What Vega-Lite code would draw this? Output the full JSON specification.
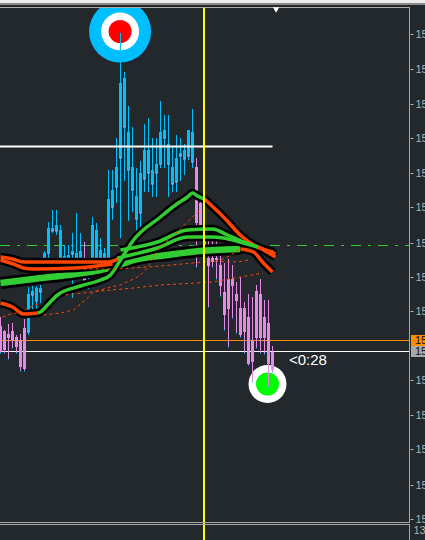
{"$schema":"https://vega.github.io/schema/vega-lite/v6.json","width":425,"height":540,"padding":0,"autosize":{"type":"none"},"background":"#22282c","config":{"view":{"stroke":null}},
"datasets":{"candles":[
{"n":0,"p":15223,"t":15214,"b":15188,"p2":15187,"d":"d"},{"n":1,"p":15210,"t":15209,"b":15190,"p2":15187,"d":"d"},{"n":2,"p":15216,"t":15206,"b":15202,"p2":15181,"d":"d"},{"n":3,"p":15217,"t":15209,"b":15200,"p2":15192,"d":"d"},{"n":4,"p":15205,"t":15203,"b":15193,"p2":15187,"d":"d"},{"n":5,"p":15206,"t":15200,"b":15173,"p2":15169,"d":"d"},{"n":6,"p":15221,"t":15212,"b":15171,"p2":15169,"d":"d"},
{"n":7,"p":15253,"t":15246,"b":15208,"p2":15205,"d":"u"},{"n":8,"p":15254,"t":15249,"b":15245,"p2":15228,"d":"u"},{"n":9,"p":15254,"t":15252,"b":15239,"p2":15230,"d":"u"},{"n":10,"p":15255,"t":15252,"b":15248,"p2":15237,"d":"u"},{"n":11,"p":15289,"t":15287,"b":15282,"p2":15280,"d":"u"},{"n":12,"p":15318,"t":15312,"b":15287,"p2":15282,"d":"u"},{"n":13,"p":15330,"t":15312,"b":15309,"p2":15307,"d":"u"},{"n":14,"p":15330,"t":15315,"b":15309,"p2":15305,"d":"u"},{"n":15,"p":15315,"t":15310,"b":15282,"p2":15280,"d":"u"},{"n":16,"p":15295,"t":15284,"b":15280,"p2":15278,"d":"u"},{"n":17,"p":15295,"t":15285,"b":15280,"p2":15278,"d":"u"},{"n":18,"p":15307,"t":15289,"b":15286,"p2":15242,"d":"u"},{"n":19,"p":15327,"t":15287,"b":15282,"p2":15278,"d":"u"},{"n":20,"p":15307,"t":15289,"b":15280,"p2":15265,"d":"u"},{"n":21,"p":15298,"t":15263,"b":15259,"p2":15258,"d":"d"},{"n":22,"p":15262,"t":15260,"b":15258,"p2":15251,"d":"u"},{"n":23,"p":15323,"t":15315,"b":15282,"p2":15278,"d":"u"},{"n":24,"p":15317,"t":15310,"b":15282,"p2":15278,"d":"u"},{"n":25,"p":15302,"t":15290,"b":15282,"p2":15275,"d":"u"},{"n":26,"p":15292,"t":15287,"b":15282,"p2":15278,"d":"u"},{"n":27,"p":15370,"t":15341,"b":15282,"p2":15278,"d":"u"},{"n":28,"p":15370,"t":15350,"b":15333,"p2":15320,"d":"u"},{"n":29,"p":15402,"t":15373,"b":15353,"p2":15337,"d":"u"},{"n":30,"p":15507,"t":15457,"b":15382,"p2":15302,"d":"u"},{"n":31,"p":15468,"t":15462,"b":15413,"p2":15359,"d":"u"},{"n":32,"p":15434,"t":15408,"b":15370,"p2":15319,"d":"u"},{"n":33,"p":15413,"t":15373,"b":15350,"p2":15328,"d":"u"},{"n":34,"p":15372,"t":15344,"b":15321,"p2":15308,"d":"u"},{"n":35,"p":15379,"t":15367,"b":15327,"p2":15313,"d":"u"},{"n":36,"p":15416,"t":15390,"b":15361,"p2":15348,"d":"u"},{"n":37,"p":15422,"t":15390,"b":15367,"p2":15348,"d":"u"},{"n":38,"p":15402,"t":15370,"b":15356,"p2":15343,"d":"u"},{"n":39,"p":15402,"t":15376,"b":15367,"p2":15343,"d":"u"},{"n":40,"p":15439,"t":15408,"b":15376,"p2":15372,"d":"u"},{"n":41,"p":15425,"t":15410,"b":15402,"p2":15372,"d":"u"},{"n":42,"p":15425,"t":15396,"b":15376,"p2":15343,"d":"u"},{"n":43,"p":15393,"t":15373,"b":15356,"p2":15348,"d":"u"},{"n":44,"p":15405,"t":15382,"b":15358,"p2":15348,"d":"u"},{"n":45,"p":15402,"t":15387,"b":15384,"p2":15359,"d":"u"},{"n":46,"p":15396,"t":15390,"b":15381,"p2":15365,"d":"u"},{"n":47,"p":15410,"t":15410,"b":15384,"p2":15380,"d":"u"},{"n":48,"p":15431,"t":15408,"b":15378,"p2":15372,"d":"u"},
{"n":49,"p":15382,"t":15373,"b":15317,"p2":15273,"d":"d"},{"n":50,"p":15345,"t":15337,"b":15315,"p2":15300,"d":"d"},{"n":51,"p":15310,"t":15305,"b":15290,"p2":15282,"d":"d"},{"n":52,"p":15310,"t":15282,"b":15274,"p2":15233,"d":"d"},{"n":53,"p":15300,"t":15282,"b":15278,"p2":15273,"d":"d"},{"n":54,"p":15300,"t":15282,"b":15280,"p2":15261,"d":"d"},{"n":55,"p":15287,"t":15275,"b":15254,"p2":15244,"d":"d"},{"n":56,"p":15277,"t":15248,"b":15225,"p2":15210,"d":"d"},{"n":57,"p":15281,"t":15261,"b":15231,"p2":15193,"d":"d"},{"n":58,"p":15275,"t":15261,"b":15254,"p2":15222,"d":"d"},{"n":59,"p":15258,"t":15246,"b":15239,"p2":15207,"d":"d"},{"n":60,"p":15263,"t":15232,"b":15205,"p2":15203,"d":"d"},{"n":61,"p":15238,"t":15232,"b":15208,"p2":15187,"d":"d"},{"n":62,"p":15246,"t":15223,"b":15176,"p2":15175,"d":"d"},{"n":63,"p":15243,"t":15200,"b":15178,"p2":15158,"d":"d"},{"n":64,"p":15255,"t":15249,"b":15202,"p2":15192,"d":"d"},{"n":65,"p":15261,"t":15246,"b":15202,"p2":15187,"d":"d"},{"n":66,"p":15240,"t":15223,"b":15202,"p2":15186,"d":"d"},{"n":67,"p":15240,"t":15217,"b":15176,"p2":15153,"d":"d"},{"n":68,"p":15194,"t":15188,"b":15170,"p2":15168,"d":"d"}],
"ribbons":[
{"s":"fatG","c":"rise","k":"fat","n":0,"p":15257},{"s":"fatG","c":"rise","k":"fat","n":8.25,"p":15261},{"s":"fatG","c":"rise","k":"fat","n":16.75,"p":15265},{"s":"fatG","c":"rise","k":"fat","n":25,"p":15270},{"s":"fatG","c":"rise","k":"fat","n":28.25,"p":15273},{"s":"fatG","c":"rise","k":"fat","n":33.25,"p":15280},{"s":"fatG","c":"rise","k":"fat","n":41.75,"p":15285},{"s":"fatG","c":"rise","k":"fat","n":50,"p":15289},{"s":"fatG","c":"rise","k":"fat","n":53.75,"p":15290},{"s":"fatG","c":"rise","k":"fat","n":60,"p":15291},
{"s":"O2","c":"fall","k":"thin","n":0,"p":15280},{"s":"O2","c":"fall","k":"thin","n":3.25,"p":15276},{"s":"O2","c":"fall","k":"thin","n":5.75,"p":15272},{"s":"O2","c":"fall","k":"thin","n":8.25,"p":15271},{"s":"O2","c":"fall","k":"thin","n":18.75,"p":15272},{"s":"O2","c":"fall","k":"thin","n":28,"p":15276},
{"s":"O1","c":"fall","k":"thin","n":0,"p":15283},{"s":"O1","c":"fall","k":"thin","n":3,"p":15281},{"s":"O1","c":"fall","k":"thin","n":5.75,"p":15278},{"s":"O1","c":"fall","k":"thin","n":26.75,"p":15278},{"s":"O1","c":"fall","k":"thin","n":28.25,"p":15279},{"s":"O1","c":"fall","k":"thin","n":29.75,"p":15282},
{"s":"fatF","c":"fall","k":"thin","n":60,"p":15291},{"s":"fatF","c":"fall","k":"thin","n":63.25,"p":15288},{"s":"fatF","c":"fall","k":"thin","n":65.5,"p":15278},{"s":"fatF","c":"fall","k":"thin","n":68,"p":15268},
{"s":"Lo","c":"fall","k":"thin","n":0,"p":15237},{"s":"Lo","c":"fall","k":"thin","n":3,"p":15233},{"s":"Lo","c":"fall","k":"thin","n":5.75,"p":15226},{"s":"Lo","c":"fall","k":"thin","n":9.25,"p":15227},
{"s":"Lg","c":"rise","k":"thin","n":9.25,"p":15227},{"s":"Lg","c":"rise","k":"thin","n":10,"p":15228},{"s":"Lg","c":"rise","k":"thin","n":11.75,"p":15235},{"s":"Lg","c":"rise","k":"thin","n":14.25,"p":15245},{"s":"Lg","c":"rise","k":"thin","n":20,"p":15254},{"s":"Lg","c":"rise","k":"thin","n":25,"p":15260},{"s":"Lg","c":"rise","k":"thin","n":27.5,"p":15265},{"s":"Lg","c":"rise","k":"thin","n":30,"p":15280},{"s":"Lg","c":"rise","k":"thin","n":33.25,"p":15300},{"s":"Lg","c":"rise","k":"thin","n":40,"p":15323},{"s":"Lg","c":"rise","k":"thin","n":43.75,"p":15335},{"s":"Lg","c":"rise","k":"thin","n":46.75,"p":15343},{"s":"Lg","c":"rise","k":"thin","n":48,"p":15347},{"s":"Lg","c":"rise","k":"thin","n":49.25,"p":15344},{"s":"Lg","c":"rise","k":"thin","n":51,"p":15341},
{"s":"Lf","c":"fall","k":"thin","n":51,"p":15341},{"s":"Lf","c":"fall","k":"thin","n":55.75,"p":15323},{"s":"Lf","c":"fall","k":"thin","n":60.5,"p":15303},{"s":"Lf","c":"fall","k":"thin","n":64.25,"p":15293},{"s":"Lf","c":"fall","k":"thin","n":68.25,"p":15288},
{"s":"M1","c":"rise","k":"thin","n":30,"p":15290},{"s":"M1","c":"rise","k":"thin","n":39.25,"p":15298},{"s":"M1","c":"rise","k":"thin","n":46.75,"p":15310},{"s":"M1","c":"rise","k":"thin","n":53,"p":15311},{"s":"M1","c":"rise","k":"thin","n":56.75,"p":15305},{"s":"M1","c":"rise","k":"thin","n":60.75,"p":15298},{"s":"M1","c":"rise","k":"thin","n":64.25,"p":15293},
{"s":"M1f","c":"fall","k":"thin","n":64.25,"p":15293},{"s":"M1f","c":"fall","k":"thin","n":68.75,"p":15286},
{"s":"M2","c":"rise","k":"thin","n":29.25,"p":15282},{"s":"M2","c":"rise","k":"thin","n":39.25,"p":15292},{"s":"M2","c":"rise","k":"thin","n":46.75,"p":15303},{"s":"M2","c":"rise","k":"thin","n":53,"p":15303},{"s":"M2","c":"rise","k":"thin","n":55.75,"p":15302},{"s":"M2","c":"rise","k":"thin","n":60.75,"p":15297},{"s":"M2","c":"rise","k":"thin","n":64.5,"p":15293},
{"s":"M2f","c":"fall","k":"thin","n":64.5,"p":15293},{"s":"M2f","c":"fall","k":"thin","n":68.75,"p":15283}],
"dashes":[
{"s":"D1","n":0.5,"p":15223},{"s":"D1","n":2.5,"p":15226},{"s":"D1","n":5.75,"p":15228},{"s":"D1","n":6.75,"p":15232},{"s":"D1","n":10,"p":15237},
{"s":"D2","n":10.75,"p":15225},{"s":"D2","n":15,"p":15227},{"s":"D2","n":18.25,"p":15230},{"s":"D2","n":20,"p":15236},{"s":"D2","n":21.75,"p":15242},{"s":"D2","n":23.25,"p":15248},{"s":"D2","n":26.75,"p":15252},{"s":"D2","n":30,"p":15255},{"s":"D2","n":33.25,"p":15261},{"s":"D2","n":35,"p":15265},{"s":"D2","n":36.75,"p":15272},{"s":"D2","n":39.25,"p":15290},{"s":"D2","n":45.5,"p":15313},{"s":"D2","n":49.25,"p":15328},{"s":"D2","n":50,"p":15329},
{"s":"D3","n":16.25,"p":15245},{"s":"D3","n":18.25,"p":15246},{"s":"D3","n":25,"p":15249},{"s":"D3","n":33.25,"p":15252},{"s":"D3","n":40,"p":15255},{"s":"D3","n":53,"p":15258},{"s":"D3","n":60,"p":15263},{"s":"D3","n":65.5,"p":15267},
{"s":"D4","n":20.75,"p":15271},{"s":"D4","n":29.25,"p":15271},{"s":"D4","n":33.25,"p":15272},{"s":"D4","n":40,"p":15274},{"s":"D4","n":45.5,"p":15276},{"s":"D4","n":53,"p":15279},{"s":"D4","n":59.25,"p":15278},{"s":"D4","n":62,"p":15280},
{"s":"D5","n":53.75,"p":15278},{"s":"D5","n":56.75,"p":15283},{"s":"D5","n":60,"p":15291}],
"targets":[{"n":29.9,"p":15508.5,"ring":"top"},{"n":66.75,"p":15156,"ring":"bottom"}]},
"encoding":{"x":{"field":"n","type":"quantitative","scale":{"domain":[-0.125,106.125],"nice":false,"zero":false},"axis":null},"y":{"field":"p","type":"quantitative","scale":{"domain":[15000,15540],"nice":false,"zero":false},"axis":{"title":null,"orient":"right","offset":-15,"values":[15506,15471,15436,15402,15367,15333,15297,15263,15229,15160,15125,15091,15055,15021],"labelExpr":"'15'","domain":false,"grid":false,"ticks":true,"tickSize":3,"tickColor":"#b0b0b0","labelColor":"#b0b0b0","labelPadding":2,"labelFont":"Liberation Sans","labelFontSize":11,"zindex":1}}},
"layer":[
{"data":{"name":"targets"},"transform":[{"filter":"datum.ring==='top'"}],"mark":{"type":"point","filled":true,"opacity":1,"strokeWidth":0,"size":3844,"color":"#00BFFF"}},
{"data":{"name":"targets"},"mark":{"type":"point","filled":true,"opacity":1,"strokeWidth":0,"size":1444,"color":"#FFFFFF"}},
{"data":{"name":"targets"},"transform":[{"filter":"datum.ring==='top'"}],"mark":{"type":"point","filled":true,"opacity":1,"strokeWidth":0,"size":529,"color":"#FF0000"}},
{"data":{"name":"targets"},"transform":[{"filter":"datum.ring==='bottom'"}],"mark":{"type":"point","filled":true,"opacity":1,"strokeWidth":0,"size":529,"color":"#00FF00"}},
{"data":{"values":[{"n":-0.125,"n2":102.25,"p":15294.5}]},"mark":{"type":"rule","color":"#32CD32","strokeWidth":1,"strokeDash":[10,7,3,7]},"encoding":{"x2":{"field":"n2"}}},
{"data":{"values":[{"n":-0.125,"n2":102.25,"p":15199.5}]},"mark":{"type":"rule","color":"#FF8C00","strokeWidth":1},"encoding":{"x2":{"field":"n2"}}},
{"data":{"values":[{"n":-0.125,"n2":102.25,"p":15188.5}]},"mark":{"type":"rule","color":"#FFFFFF","strokeWidth":1},"encoding":{"x2":{"field":"n2"}}},
{"data":{"name":"candles"},"mark":{"type":"rule","strokeWidth":1},"encoding":{"y2":{"field":"p2"},"color":{"field":"d","type":"nominal","scale":{"domain":["u","d","rise","fall"],"range":["#00BFFF","#E58AE5","#32CD32","#FF4500"]},"legend":null}}},
{"data":{"name":"candles"},"mark":{"type":"rule","strokeWidth":3},"encoding":{"y":{"field":"t","type":"quantitative"},"y2":{"field":"b"},"color":{"field":"d","type":"nominal","scale":{"domain":["u","d","rise","fall"],"range":["#00BFFF","#E58AE5","#32CD32","#FF4500"]},"legend":null}}},
{"data":{"name":"candles"},"transform":[{"filter":"datum.d==='u'"}],"mark":{"type":"tick","orient":"horizontal","size":3,"thickness":1,"color":"#E58AE5","opacity":1},"encoding":{"y":{"field":"b","type":"quantitative"}}},
{"data":{"name":"candles"},"transform":[{"filter":"datum.d==='d'"}],"mark":{"type":"tick","orient":"horizontal","size":1,"thickness":1,"color":"#00BFFF","opacity":1},"encoding":{"y":{"field":"p2","type":"quantitative"}}},
{"data":{"name":"ribbons"},"transform":[{"filter":"datum.k==='fat'"}],"mark":{"type":"line","color":"#000000","strokeWidth":12,"strokeJoin":"round","interpolate":"monotone"},"encoding":{"detail":{"field":"s"}}},
{"data":{"name":"ribbons"},"transform":[{"filter":"datum.k==='fat'"}],"mark":{"type":"line","color":"#32CD32","strokeWidth":6.5,"strokeJoin":"round","interpolate":"monotone"},"encoding":{"detail":{"field":"s"}}},
{"data":{"name":"ribbons"},"transform":[{"filter":"datum.k==='thin'"}],"mark":{"type":"line","color":"#000000","strokeWidth":8.5,"strokeJoin":"round","interpolate":"monotone"},"encoding":{"detail":{"field":"s"}}},
{"data":{"name":"ribbons"},"transform":[{"filter":"datum.k==='thin'"}],"mark":{"type":"line","strokeWidth":3.5,"strokeJoin":"round","interpolate":"monotone"},"encoding":{"detail":{"field":"s"},"color":{"field":"c","type":"nominal","scale":{"domain":["u","d","rise","fall"],"range":["#00BFFF","#E58AE5","#32CD32","#FF4500"]},"legend":null}}},
{"data":{"name":"dashes"},"mark":{"type":"line","color":"#FF4500","strokeWidth":1,"strokeDash":[3,3]},"encoding":{"detail":{"field":"s"}}},
{"data":{"values":[{"n":-0.125,"n2":68,"p":15393.5}]},"mark":{"type":"rule","color":"#FFFFFF","strokeWidth":2},"encoding":{"x2":{"field":"n2"}}},
{"data":{"values":[{"n":50.875,"p":15000,"p2":15533}]},"mark":{"type":"rule","color":"#FFFF00","strokeWidth":2},"encoding":{"y2":{"field":"p2"}}},
{"data":{"values":[{"n":-0.125,"n2":106.125,"p":15536.5}]},"mark":{"type":"rule","color":"#22282c","strokeWidth":7},"encoding":{"x2":{"field":"n2"}}},
{"data":{"values":[{"n":-0.125,"n2":106.125,"p":15538.5}]},"mark":{"type":"rule","color":"#ECECEC","strokeWidth":3},"encoding":{"x2":{"field":"n2"}}},
{"data":{"values":[{"n":-0.125,"n2":106.125,"p":15536}]},"mark":{"type":"rule","color":"#8A8A8A","strokeWidth":2},"encoding":{"x2":{"field":"n2"}}},
{"data":{"values":[{"n":-0.125,"n2":102.25,"p":15532.5},{"n":-0.125,"n2":102.25,"p":15017.5},{"n":-0.125,"n2":102.25,"p":15015.5}]},"mark":{"type":"rule","color":"#A8A8A8","strokeWidth":1},"encoding":{"x2":{"field":"n2"}}},
{"data":{"values":[{"n":102.25,"p":15533,"p2":15017},{"n":102.25,"p":15016,"p2":15000}]},"mark":{"type":"rule","color":"#A8A8A8","strokeWidth":1},"encoding":{"y2":{"field":"p2"}}},
{"data":{"values":[{"n":68.9,"p":15530}]},"mark":{"type":"point","shape":"triangle-down","filled":true,"size":40,"color":"#FFFFFF","opacity":1}},
{"data":{"values":[{"n":102.625,"n2":106.125,"p":15199.5}]},"mark":{"type":"rule","color":"#FF8C00","strokeWidth":11},"encoding":{"x2":{"field":"n2"}}},
{"data":{"values":[{"n":102.625,"n2":106.125,"p":15188.5}]},"mark":{"type":"rule","color":"#A8A8A8","strokeWidth":11},"encoding":{"x2":{"field":"n2"}}},
{"data":{"values":[{"n":103.625,"p":15199.5,"label":"15"},{"n":103.625,"p":15188.5,"label":"15"}]},"mark":{"type":"text","align":"left","baseline":"middle","font":"Liberation Sans","fontSize":11,"color":"#111111"},"encoding":{"text":{"field":"label"}}},
{"data":{"values":[{"n":103.25,"p":15009,"label":"137"}]},"mark":{"type":"text","align":"left","baseline":"middle","font":"Liberation Sans","fontSize":11,"color":"#b0b0b0"},"encoding":{"text":{"field":"label"}}},
{"data":{"values":[{"n":72.1,"p":15180,"label":"<0:28"}]},"mark":{"type":"text","align":"left","baseline":"middle","font":"Liberation Sans","fontSize":15,"color":"#FFFFFF"},"encoding":{"text":{"field":"label"}}}
]}
